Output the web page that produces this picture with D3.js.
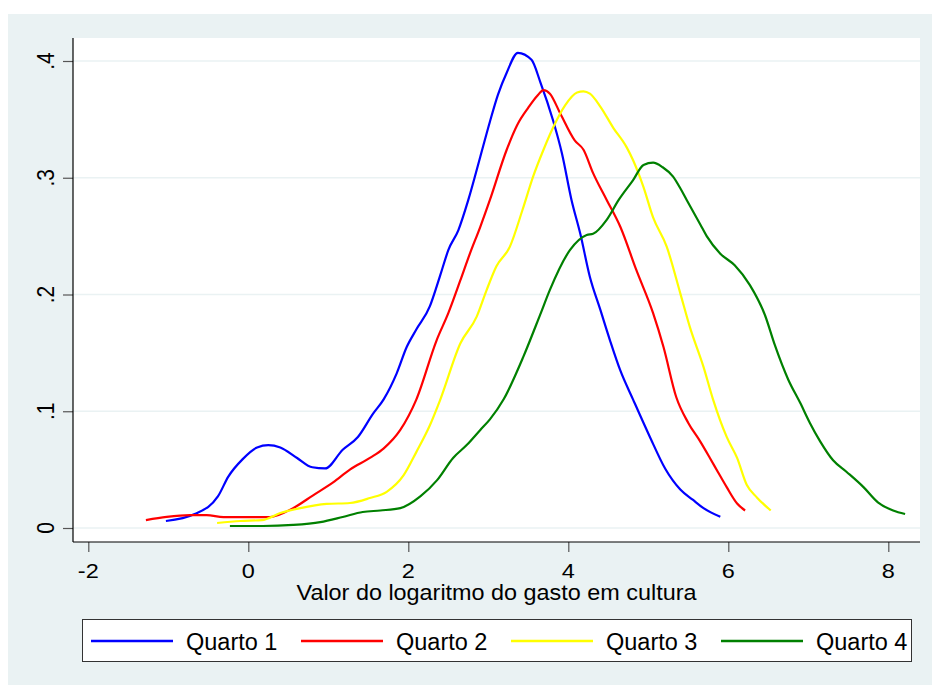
<!DOCTYPE html>
<html>
<head>
<meta charset="utf-8">
<script src="https://cdn.jsdelivr.net/npm/d3@7"></script>
<style>
  html, body { margin: 0; padding: 0; background: #fff; }
  text { font-family: "Liberation Sans", Arial, sans-serif; fill: #000; }
</style>
</head>
<body>
<div id="app"></div>
<script>
// kernel density estimates, [log gasto, densidade]
const quarto1 = [[-1.03,0.006],[-0.67,0.012],[-0.38,0.027],[-0.25,0.044],[-0.07,0.059],[0.11,0.069],[0.25,0.071],
  [0.40,0.069],[0.61,0.060],[0.80,0.052],[0.96,0.051],[1.18,0.067],[1.37,0.078],[1.56,0.098],[1.69,0.110],[1.855,0.1325],
  [1.98,0.155],[2.1,0.170],[2.27,0.190],[2.355,0.207],[2.42,0.221],[2.5,0.238],[2.625,0.255],[2.75,0.281],[2.9,0.318],
  [3.02,0.348],[3.12,0.371],[3.23,0.390],[3.37,0.407],[3.54,0.401],[3.65,0.382],[3.81,0.349],[3.92,0.321],[4.04,0.281],
  [4.15,0.252],[4.27,0.215],[4.4,0.187],[4.52,0.161],[4.65,0.135],[4.81,0.110],[5.02,0.078],[5.21,0.051],[5.40,0.033],
  [5.56,0.024],[5.69,0.017],[5.9,0.0096]];
const quarto2 = [[-1.28,0.0068],[-1.02,0.0095],[-0.73,0.011],[-0.52,0.011],[-0.31,0.0094],[-0.02,0.0094],[0.27,0.0094],
  [0.56,0.017],[0.81,0.028],[1.06,0.039],[1.27,0.050],[1.52,0.060],[1.69,0.068],[1.9,0.084],[2.1,0.110],[2.355,0.161],
  [2.5,0.184],[2.65,0.212],[2.77,0.235],[2.9,0.258],[3.02,0.281],[3.23,0.324],[3.36,0.345],[3.5,0.360],[3.61,0.370],
  [3.69,0.375],[3.77,0.372],[3.9,0.355],[4.08,0.332],[4.19,0.324],[4.31,0.304],[4.48,0.281],[4.65,0.258],[4.85,0.221],
  [5.06,0.184],[5.19,0.155],[5.35,0.112],[5.5,0.090],[5.65,0.074],[5.77,0.060],[5.87,0.048],[5.98,0.035],[6.11,0.021],[6.21,0.015]];
const quarto3 = [[-0.39,0.0043],[-0.1,0.006],[0.17,0.0068],[0.4,0.0128],[0.65,0.017],[0.98,0.0206],[1.27,0.0214],
  [1.52,0.0257],[1.73,0.031],[1.94,0.045],[2.1,0.065],[2.27,0.088],[2.4,0.110],[2.65,0.158],[2.855,0.181],[2.98,0.204],
  [3.1,0.224],[3.27,0.241],[3.43,0.273],[3.56,0.301],[3.69,0.324],[3.81,0.343],[3.96,0.362],[4.11,0.373],[4.19,0.374],
  [4.27,0.372],[4.4,0.361],[4.56,0.343],[4.73,0.326],[4.81,0.315],[4.94,0.292],[5.06,0.266],[5.23,0.241],[5.4,0.201],
  [5.52,0.172],[5.69,0.138],[5.81,0.110],[5.98,0.078],[6.11,0.060],[6.23,0.037],[6.36,0.026],[6.53,0.015]];
const quarto4 = [[-0.23,0.0017],[0.18,0.0017],[0.56,0.0026],[0.9,0.005],[1.18,0.0094],[1.43,0.0137],[1.65,0.015],
  [1.9,0.017],[2.15,0.027],[2.36,0.041],[2.56,0.060],[2.73,0.071],[2.9,0.084],[3.02,0.093],[3.19,0.110],[3.44,0.147],
  [3.65,0.183],[3.77,0.204],[4.02,0.238],[4.23,0.251],[4.31,0.252],[4.48,0.264],[4.63,0.281],[4.81,0.298],[4.94,0.311],
  [5.06,0.313],[5.18,0.309],[5.31,0.301],[5.4,0.291],[5.48,0.281],[5.65,0.260],[5.73,0.250],[5.9,0.235],[6.08,0.225],
  [6.27,0.208],[6.46,0.182],[6.58,0.157],[6.75,0.127],[6.9,0.107],[7.02,0.090],[7.15,0.074],[7.31,0.058],[7.48,0.048],
  [7.69,0.035],[7.87,0.022],[8.06,0.015],[8.21,0.012]];

const series = [quarto1, quarto2, quarto3, quarto4];
const seriesNames = ['Quarto 1', 'Quarto 2', 'Quarto 3', 'Quarto 4'];
const seriesColors = ['#0000ff', '#ff0000', '#ffff00', '#008000'];
const xTicks = [-2, 0, 2, 4, 6, 8];
const yTicks = [0, 0.1, 0.2, 0.3, 0.4];
const yTickLabels = ['0', '.1', '.2', '.3', '.4'];
const xTitle = 'Valor do logaritmo do gasto em cultura';

const W = 932, H = 685;
const plot = { left: 73, right: 920, top: 38, bottom: 542 };

const svg = d3.select('#app')
    .append('svg')
    .attr('width', W)
    .attr('height', H);

// background panel
svg.append('rect')
    .attr('x', 8).attr('y', 14)
    .attr('width', W - 8).attr('height', H - 14)
    .attr('fill', '#eaf2f3');

svg.append('rect')
    .attr('x', plot.left).attr('y', plot.top)
    .attr('width', plot.right - plot.left).attr('height', plot.bottom - plot.top)
    .attr('fill', '#fff');

const x = d3.scaleLinear().domain([-2, 8]).range([88.3, 888.3]);
const y = d3.scaleLinear().domain([0, 0.4]).range([528, 61]);

// grid
svg.append('g')
    .selectAll('line')
    .data(yTicks)
    .join('line')
    .attr('x1', plot.left).attr('x2', plot.right)
    .attr('y1', d => y(d)).attr('y2', d => y(d))
    .attr('stroke', '#eaf2f3')
    .attr('stroke-width', 1.5);

// y axis
const yAxis = svg.append('g')
    .attr('transform', `translate(${plot.left},0)`)
    .call(d3.axisLeft(y).tickValues(yTicks).tickSize(10).tickSizeOuter(0).tickFormat(''));
yAxis.select('.domain').remove();
yAxis.selectAll('.tick line').attr('stroke', '#555').attr('stroke-width', 1.2);
svg.append('line')
    .attr('x1', plot.left).attr('x2', plot.left)
    .attr('y1', plot.top).attr('y2', plot.bottom)
    .attr('stroke', '#000').attr('stroke-width', 1.2);

svg.append('g')
    .selectAll('text')
    .data(yTicks)
    .join('text')
    .attr('transform', (d, i) => `translate(54,${y(d)}) scale(1.12,1) rotate(-90)`)
    .attr('text-anchor', 'middle')
    .style('font-size', '21px')
    .text((d, i) => yTickLabels[i]);

// x axis
const xAxis = svg.append('g')
    .attr('transform', `translate(0,${plot.bottom})`)
    .call(d3.axisBottom(x).tickValues(xTicks).tickSize(10).tickSizeOuter(0).tickFormat(''));
xAxis.select('.domain').remove();
xAxis.selectAll('.tick line').attr('stroke', '#555').attr('stroke-width', 1.2);
svg.append('line')
    .attr('x1', plot.left).attr('x2', plot.right)
    .attr('y1', plot.bottom).attr('y2', plot.bottom)
    .attr('stroke', '#000').attr('stroke-width', 1.2);

svg.append('g')
    .selectAll('text')
    .data(xTicks)
    .join('text')
    .attr('transform', d => `translate(${x(d)},578) scale(1.12,1)`)
    .attr('text-anchor', 'middle')
    .style('font-size', '21px')
    .text(d => d);

svg.append('text')
    .attr('transform', `translate(${(plot.left + plot.right) / 2},600) scale(1.04,1)`)
    .attr('text-anchor', 'middle')
    .style('font-size', '22.5px')
    .text(xTitle);

// curves
const line = d3.line()
    .x(d => x(d[0]))
    .y(d => y(d[1]))
    .curve(d3.curveMonotoneX);

svg.append('g')
    .selectAll('path')
    .data(series)
    .join('path')
    .attr('d', line)
    .attr('fill', 'none')
    .attr('stroke', (d, i) => seriesColors[i])
    .attr('stroke-width', 2.2)
    .attr('stroke-linejoin', 'round');

// legend
const legend = svg.append('g');
legend.append('rect')
    .attr('x', 82.5).attr('y', 619.5)
    .attr('width', 829).attr('height', 42)
    .attr('fill', '#fff')
    .attr('stroke', '#333')
    .attr('stroke-width', 1);

const item = legend.selectAll('g.item')
    .data(seriesNames)
    .join('g')
    .attr('class', 'item')
    .attr('transform', (d, i) => `translate(${91 + i * 210},0)`);

item.append('line')
    .attr('x1', 0).attr('x2', 82)
    .attr('y1', 641).attr('y2', 641)
    .attr('stroke', (d, i) => seriesColors[i])
    .attr('stroke-width', 2.5);

item.append('text')
    .attr('x', 95).attr('y', 650)
    .style('font-size', '23.5px')
    .text(d => d);
</script>
</body>
</html>
